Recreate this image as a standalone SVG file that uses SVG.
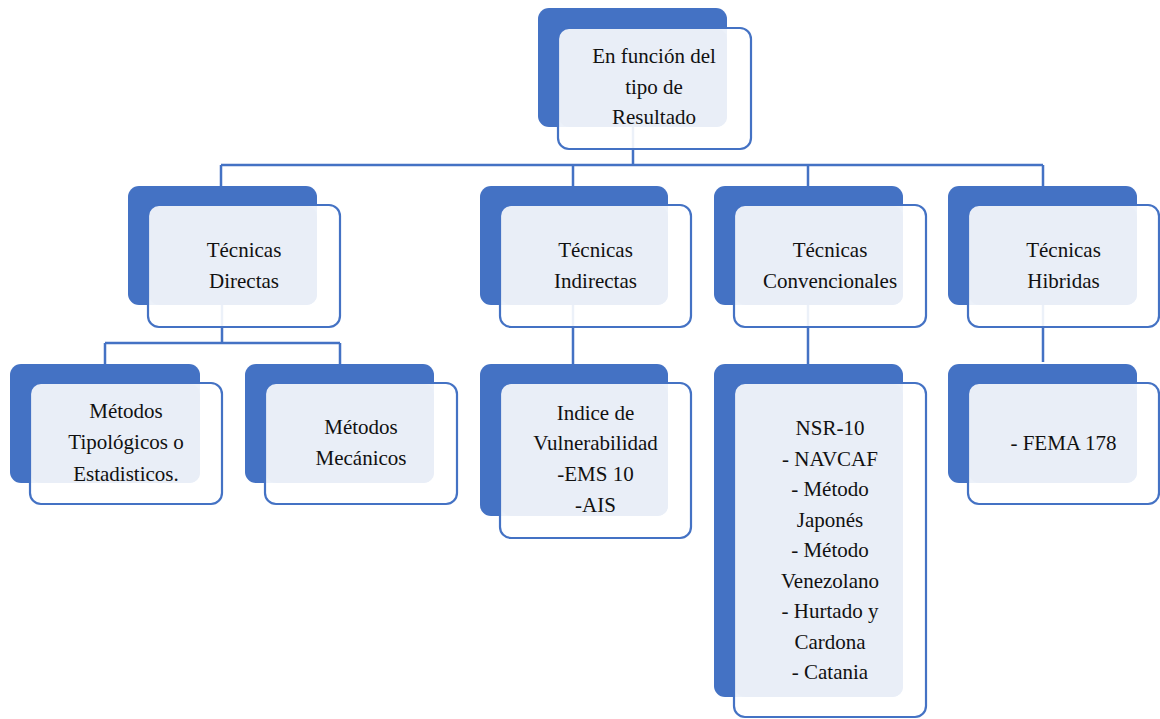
<svg xmlns="http://www.w3.org/2000/svg" width="1160" height="719" viewBox="0 0 1160 719">
<style>
.back{fill:#4472C4}
.ff{fill:#FFFFFF;fill-opacity:0.9}
.lt{fill:#E9EEF7}
.fs{fill:none;stroke:#4472C4;stroke-width:2.2}
.con{fill:none;stroke:#4472C4;stroke-width:2.5}
</style>
<rect width="1160" height="719" fill="#FFFFFF"/>
<g id="connectors">
<path class="con" d="M633,127 V165 M221,165 H1043 M221,165 V186 M573,165 V186 M808,165 V186 M1043,165 V186"/>
<path class="con" d="M222,305 V343 M105,343 H340 M105,343 V364 M340,343 V364"/>
<path class="con" d="M573,305 V364 M808,305 V364 M1043,305 V362"/>
</g>
<g font-family="'Liberation Serif', 'Times New Roman', serif" font-size="21" fill="#111111" text-anchor="middle">
<g id="n-top">
<rect class="back" x="538" y="8" width="189" height="119" rx="11"/>
<rect class="ff" x="558" y="28" width="193" height="121" rx="11"/>
<rect class="lt" x="559" y="29" width="168" height="98" rx="10"/>
<rect class="fs" x="558" y="28" width="193" height="121" rx="11"/>
<text x="654" y="63">En función del</text>
<text x="654" y="94">tipo de</text>
<text x="654" y="124">Resultado</text>
</g>
<g id="n-directas">
<rect class="back" x="128" y="186" width="189" height="119" rx="11"/>
<rect class="ff" x="148" y="205" width="192" height="122" rx="11"/>
<rect class="lt" x="149" y="206" width="168" height="99" rx="10"/>
<rect class="fs" x="148" y="205" width="192" height="122" rx="11"/>
<text x="244" y="257">Técnicas</text>
<text x="244" y="288">Directas</text>
</g>
<g id="n-indirectas">
<rect class="back" x="480" y="186" width="188" height="119" rx="11"/>
<rect class="ff" x="500" y="205" width="191" height="122" rx="11"/>
<rect class="lt" x="501" y="206" width="167" height="99" rx="10"/>
<rect class="fs" x="500" y="205" width="191" height="122" rx="11"/>
<text x="595.5" y="257">Técnicas</text>
<text x="595.5" y="288">Indirectas</text>
</g>
<g id="n-convencionales">
<rect class="back" x="714" y="186" width="189" height="119" rx="11"/>
<rect class="ff" x="734" y="205" width="192" height="122" rx="11"/>
<rect class="lt" x="735" y="206" width="168" height="99" rx="10"/>
<rect class="fs" x="734" y="205" width="192" height="122" rx="11"/>
<text x="830" y="257">Técnicas</text>
<text x="830" y="288">Convencionales</text>
</g>
<g id="n-hibridas">
<rect class="back" x="948" y="186" width="189" height="119" rx="11"/>
<rect class="ff" x="968" y="205" width="191" height="122" rx="11"/>
<rect class="lt" x="969" y="206" width="168" height="99" rx="10"/>
<rect class="fs" x="968" y="205" width="191" height="122" rx="11"/>
<text x="1063.5" y="257">Técnicas</text>
<text x="1063.5" y="288">Hibridas</text>
</g>
<g id="n-tipologicos">
<rect class="back" x="10" y="364" width="190" height="119" rx="11"/>
<rect class="ff" x="30" y="383" width="192" height="121" rx="11"/>
<rect class="lt" x="31" y="384" width="169" height="99" rx="10"/>
<rect class="fs" x="30" y="383" width="192" height="121" rx="11"/>
<text x="126" y="418">Métodos</text>
<text x="126" y="449">Tipológicos o</text>
<text x="126" y="481">Estadisticos.</text>
</g>
<g id="n-mecanicos">
<rect class="back" x="245" y="364" width="189" height="119" rx="11"/>
<rect class="ff" x="265" y="383" width="192" height="121" rx="11"/>
<rect class="lt" x="266" y="384" width="168" height="99" rx="10"/>
<rect class="fs" x="265" y="383" width="192" height="121" rx="11"/>
<text x="361" y="434">Métodos</text>
<text x="361" y="465">Mecánicos</text>
</g>
<g id="n-indice">
<rect class="back" x="480" y="364" width="188" height="152" rx="11"/>
<rect class="ff" x="500" y="383" width="191" height="155" rx="11"/>
<rect class="lt" x="501" y="384" width="167" height="132" rx="10"/>
<rect class="fs" x="500" y="383" width="191" height="155" rx="11"/>
<text x="595.5" y="420">Indice de</text>
<text x="595.5" y="450">Vulnerabilidad</text>
<text x="595.5" y="481">-EMS 10</text>
<text x="595.5" y="512">-AIS</text>
</g>
<g id="n-metodos-conv">
<rect class="back" x="714" y="364" width="189" height="333" rx="11"/>
<rect class="ff" x="734" y="383" width="192" height="334" rx="11"/>
<rect class="lt" x="735" y="384" width="168" height="313" rx="10"/>
<rect class="fs" x="734" y="383" width="192" height="334" rx="11"/>
<text x="830" y="435">NSR-10</text>
<text x="830" y="466">- NAVCAF</text>
<text x="830" y="496">- Método</text>
<text x="830" y="527">Japonés</text>
<text x="830" y="557">- Método</text>
<text x="830" y="588">Venezolano</text>
<text x="830" y="618">- Hurtado y</text>
<text x="830" y="649">Cardona</text>
<text x="830" y="679">- Catania</text>
</g>
<g id="n-fema">
<rect class="back" x="948" y="364" width="189" height="119" rx="11"/>
<rect class="ff" x="968" y="383" width="191" height="121" rx="11"/>
<rect class="lt" x="969" y="384" width="168" height="99" rx="10"/>
<rect class="fs" x="968" y="383" width="191" height="121" rx="11"/>
<text x="1063.5" y="450">- FEMA 178</text>
</g>
</g>
</svg>
